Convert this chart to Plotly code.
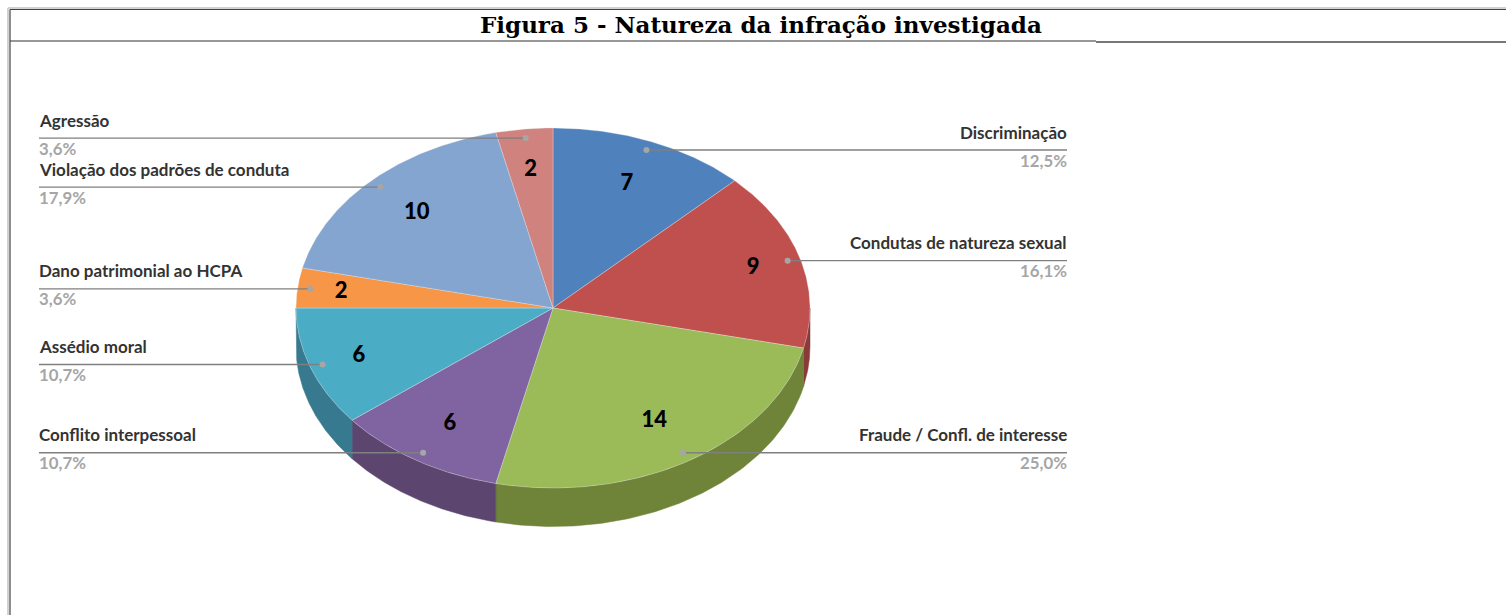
import numpy as np
import plotly.graph_objects as go

# ---- data ----
categories = ["Discriminação", "Condutas de natureza sexual", "Fraude / Confl. de interesse",
              "Conflito interpessoal", "Assédio moral", "Dano patrimonial ao HCPA",
              "Violação dos padrões de conduta", "Agressão"]
values = [7, 9, 14, 6, 6, 2, 10, 2]
percent_labels = ["12,5%", "16,1%", "25,0%", "10,7%", "10,7%", "3,6%", "17,9%", "3,6%"]
title_text = "Figura 5 - Natureza da infração investigada"

# ---- style / geometry ----
top_colors = ["#4F81BD", "#C0504D", "#9BBB59", "#8064A2", "#4BACC6", "#F79646", "#84A5CF", "#CF827E"]
side_colors = ["#3A6089", "#8A3A38", "#6F8339", "#5C4670", "#37798F", "#B26C32", "#5F7795", "#955E5B"]
CX, CY, RX, RY, DEPTH = 553, 308, 257, 180, 38.5
DOT_K = 0.95
LABEL_K = [0.75, 0.81, 0.74, 0.755, 0.80, 0.83, 0.75, 0.775]
LEFT_X, RIGHT_X = 39, 1067
SIDE = "rrrlllll"

total = sum(values)
edges = np.cumsum([0] + values) / total * 2 * np.pi


def pt(theta, k=1.0):
    return CX + RX * k * np.sin(theta), CY - RY * k * np.cos(theta)


fig = go.Figure()
common = dict(mode="lines", fill="toself", hoverinfo="skip", showlegend=False)

# side walls (only the front half, 90 to 270 degrees, is visible)
for i in range(len(values)):
    a = max(edges[i], np.pi / 2)
    b = min(edges[i + 1], 3 * np.pi / 2)
    if b <= a:
        continue
    t = np.linspace(a, b, 120)
    x, y = pt(t)
    xs = np.concatenate([x, x[::-1], x[:1]])
    ys = np.concatenate([y, (y + DEPTH)[::-1], y[:1]])
    fig.add_trace(go.Scatter(x=xs, y=ys, fillcolor=side_colors[i],
                             line=dict(color=side_colors[i], width=0.5), **common))

# top faces
for i in range(len(values)):
    t = np.linspace(edges[i], edges[i + 1], 160)
    x, y = pt(t)
    xs = np.concatenate([[CX], x, [CX]])
    ys = np.concatenate([[CY], y, [CY]])
    fig.add_trace(go.Scatter(x=xs, y=ys, fillcolor=top_colors[i],
                             line=dict(color="rgba(235,235,235,0.55)", width=0.6), **common))

annotations = []
mids = (edges[:-1] + edges[1:]) / 2
dx, dy = pt(mids, DOT_K)

# leader lines, dots, labels
for i, cat in enumerate(categories):
    right = SIDE[i] == "r"
    end = RIGHT_X if right else LEFT_X
    shift = 2 if right else -2
    fig.add_trace(go.Scatter(x=[dx[i], end], y=[dy[i], dy[i]], mode="lines",
                             line=dict(color="#7F7F7F", width=1.4),
                             hoverinfo="skip", showlegend=False))
    anchor = "right" if right else "left"
    annotations.append(dict(x=end, y=dy[i] - 18, xshift=shift, text=cat, showarrow=False, xanchor=anchor,
                            yanchor="middle",
                            font=dict(family="Lato", size=17, color="#333333", weight=700)))
    annotations.append(dict(x=end, y=dy[i] + 10, xshift=shift, text=percent_labels[i], showarrow=False,
                            xanchor=anchor, yanchor="middle",
                            font=dict(family="Lato", size=16.8, color="#A6A6A6", weight=700)))

fig.add_trace(go.Scatter(x=dx, y=dy, mode="markers", marker=dict(color="#A6A6A6", size=6),
                         hoverinfo="skip", showlegend=False))

# value labels on the slices
lx, ly = pt(mids, np.array(LABEL_K))
fig.add_trace(go.Scatter(x=lx, y=ly + 1, mode="text", text=[str(v) for v in values], textposition="middle center",
                         textfont=dict(family="Lato", size=22, color="#000000", weight=900),
                         hoverinfo="skip", showlegend=False))

annotations.append(dict(x=761, y=24, text=title_text, showarrow=False, xanchor="center", yanchor="middle",
                        font=dict(family="DejaVu Serif", size=23, color="#000000", weight=700)))

frame = [
    (8, 615, 8, 8, "#D2D2D2", 2),
    (8, 8, 1506, 8, "#D2D2D2", 2),
    (10, 615, 10, 9.5, "#444444", 1.2),
    (10, 9.5, 1506, 9.5, "#444444", 1.2),
    (10, 41, 1096, 41, "#333333", 1.2),
    (1096, 42, 1506, 42, "#777777", 2),
]
shapes = [dict(type="line", xref="x", yref="y", x0=a, y0=b, x1=c, y1=d, line=dict(color=col, width=w))
          for a, b, c, d, col, w in frame]

fig.update_layout(
    width=1506, height=615, margin=dict(l=0, r=0, t=0, b=0),
    paper_bgcolor="white", plot_bgcolor="white", showlegend=False,
    xaxis=dict(range=[0, 1506], visible=False, fixedrange=True),
    yaxis=dict(range=[615, 0], visible=False, fixedrange=True),
    annotations=annotations, shapes=shapes,
)

fig.write_html("out.html", config={"displayModeBar": False},
               post_script="document.body.style.margin='0';document.body.style.overflow='hidden';")
